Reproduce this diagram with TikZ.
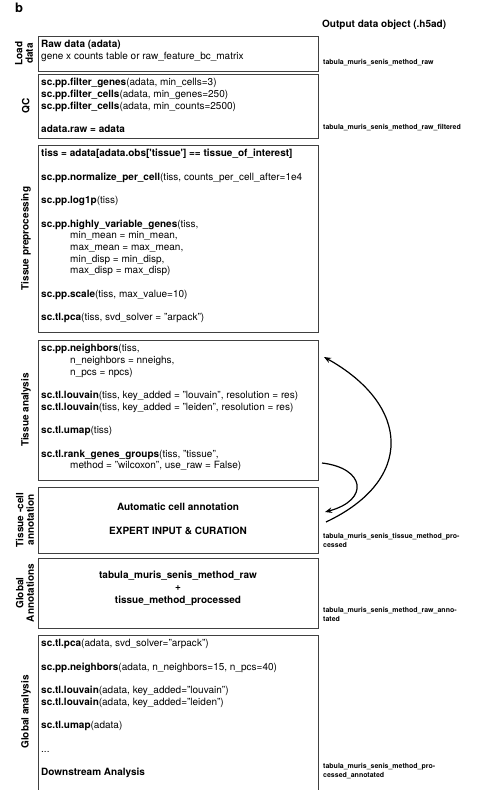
\documentclass[tikz,border=0pt]{standalone}
\usepackage{fontspec}
\setmainfont{TeX Gyre Heros}
\usetikzlibrary{arrows.meta,calc}

\tikzset{
	stage/.style={draw=black!75, line width=0.9pt, anchor=north west, minimum width=280pt, inner sep=0pt},
	code/.style={anchor=north west, align=left, inner xsep=3pt, inner ysep=4.3pt, font=\fontsize{10}{11.7}\selectfont},
	phase/.style={rotate=90, align=center, inner sep=0pt, font=\bfseries\fontsize{10}{10.5}\selectfont},
	outfile/.style={anchor=north west, align=left, inner sep=0pt, font=\bfseries\fontsize{7}{9}\selectfont},
	loopback/.style={line width=1.2pt, -{Stealth[length=7pt,width=5.5pt]}},
}
\def\gap{\\[11.7pt]}
\def\ind{\hspace*{29pt}}

\begin{document}
\begin{tikzpicture}[x=1pt, y=-1pt]
		%%%%% START %%%%%
		\useasboundingbox (0,0) rectangle (492,790);
		
		\node[font=\bfseries\fontsize{13}{13}\selectfont, inner sep=0pt] (panel) at (19,8) {b};
		\node[anchor=west, inner sep=0pt, font=\bfseries\fontsize{10}{12}\selectfont] (outhead) at (322,25) {Output data object (.h5ad)};
		
		% stages
		\node[stage, minimum height=35pt] (load) at (38,36) {};
		\node[stage, minimum height=64pt] (qc) at (38,74) {};
		\node[stage, minimum height=187pt] (prep) at (38,145) {};
		\node[stage, minimum height=140pt] (analysis) at (38,340) {};
		\node[stage, minimum height=66pt] (annot) at (38,487) {};
		\node[stage, minimum height=70pt] (global) at (38,558) {};
		\draw[draw=black!75, line width=0.9pt] (38,792) |- (318,635) -- (318,792);
		
		% phase labels
		\node[phase] (loadlbl) at (24,53.5) {Load\\data};
		\node[phase] (qclbl) at (26,106) {QC};
		\node[phase] (preplbl) at (26,238.5) {Tissue preprocessing};
		\node[phase] (analysislbl) at (26,410) {Tissue analysis};
		\node[phase] (annotlbl) at (25,520) {Tissue -cell\\annotation};
		\node[phase] (globallbl) at (25,593) {Global\\Annotations};
		\node[phase] (downlbl) at (26,712) {Global analysis};
		
		% code
		\node[code, font=\fontsize{10}{12}\selectfont] (loadtxt) at (load.north west) {\textbf{Raw data (adata)}\\gene x counts table or raw\_feature\_bc\_matrix};
		\node[code] (qctxt) at (qc.north west) {\textbf{sc.pp.filter\_genes}(adata, min\_cells=3)\\
			\textbf{sc.pp.filter\_cells}(adata, min\_genes=250)\\
			\textbf{sc.pp.filter\_cells}(adata, min\_counts=2500)\gap
			\textbf{adata.raw = adata}};
		\node[code] (preptxt) at (prep.north west) {\textbf{tiss = adata[adata.obs[\textquotesingle tissue\textquotesingle] == tissue\_of\_interest]}\gap
			\textbf{sc.pp.normalize\_per\_cell}(tiss, counts\_per\_cell\_after=1e4\gap
			\textbf{sc.pp.log1p}(tiss)\gap
			\textbf{sc.pp.highly\_variable\_genes}(tiss,\\
			\ind min\_mean = min\_mean,\\
			\ind max\_mean = max\_mean,\\
			\ind min\_disp = min\_disp,\\
			\ind max\_disp = max\_disp)\gap
			\textbf{sc.pp.scale}(tiss, max\_value=10)\gap
			\textbf{sc.tl.pca}(tiss, svd\_solver = "arpack")};
		\node[code] (analysistxt) at (analysis.north west) {\textbf{sc.pp.neighbors}(tiss,\\
			\ind n\_neighbors = nneighs,\\
			\ind n\_pcs = npcs)\gap
			\textbf{sc.tl.louvain}(tiss, key\_added = "louvain", resolution = res)\\
			\textbf{sc.tl.louvain}(tiss, key\_added = "leiden", resolution = res)\gap
			\textbf{sc.tl.umap}(tiss)\gap
			\textbf{sc.tl.rank\_genes\_groups}(tiss, "tissue",\\
			\ind method = "wilcoxon", use\_raw = False)};
		\node[align=center, font=\bfseries\fontsize{10}{11.7}\selectfont] (annottxt) at (178,519) {Automatic cell annotation\gap EXPERT INPUT \& CURATION};
		\node[align=center, font=\bfseries\fontsize{10}{12.5}\selectfont] (globaltxt) at (178,588) {tabula\_muris\_senis\_method\_raw\\+\\tissue\_method\_processed};
		\node[code] (downtxt) at (38,635) {\textbf{sc.tl.pca}(adata, svd\_solver="arpack")\gap
			\textbf{sc.pp.neighbors}(adata, n\_neighbors=15, n\_pcs=40)\gap
			\textbf{sc.tl.louvain}(adata, key\_added="louvain")\\
			\textbf{sc.tl.louvain}(adata, key\_added="leiden")\gap
			\textbf{sc.tl.umap}(adata)\gap
			...\gap
			\textbf{Downstream Analysis}};
		
		% output files
		\node[outfile] (rawout) at (323,59) {tabula\_muris\_senis\_method\_raw};
		\node[outfile] (filtout) at (323,124.5) {tabula\_muris\_senis\_method\_raw\_filtered};
		\node[outfile] (procout) at (323,533.5) {tabula\_muris\_senis\_tissue\_method\_pro-\\cessed};
		\node[outfile] (annout) at (323,607) {tabula\_muris\_senis\_method\_raw\_anno-\\tated};
		\node[outfile] (downout) at (323,763) {tabula\_muris\_senis\_method\_pro-\\cessed\_annotated};
		
		% loops between analysis and annotation
		\coordinate (fwdstart) at (322,463);
		\coordinate (fwdend) at (325,512);
		\coordinate (backstart) at (326,522);
		\coordinate (backend) at (324,357);
		\draw[loopback] (fwdstart) .. controls (365,468) and (370,500) .. (fwdend);
		\draw[loopback] (backstart) .. controls (415,480) and (410,405) .. (backend);
		
		%%%%% END %%%%%
	\end{tikzpicture}
\end{document}
